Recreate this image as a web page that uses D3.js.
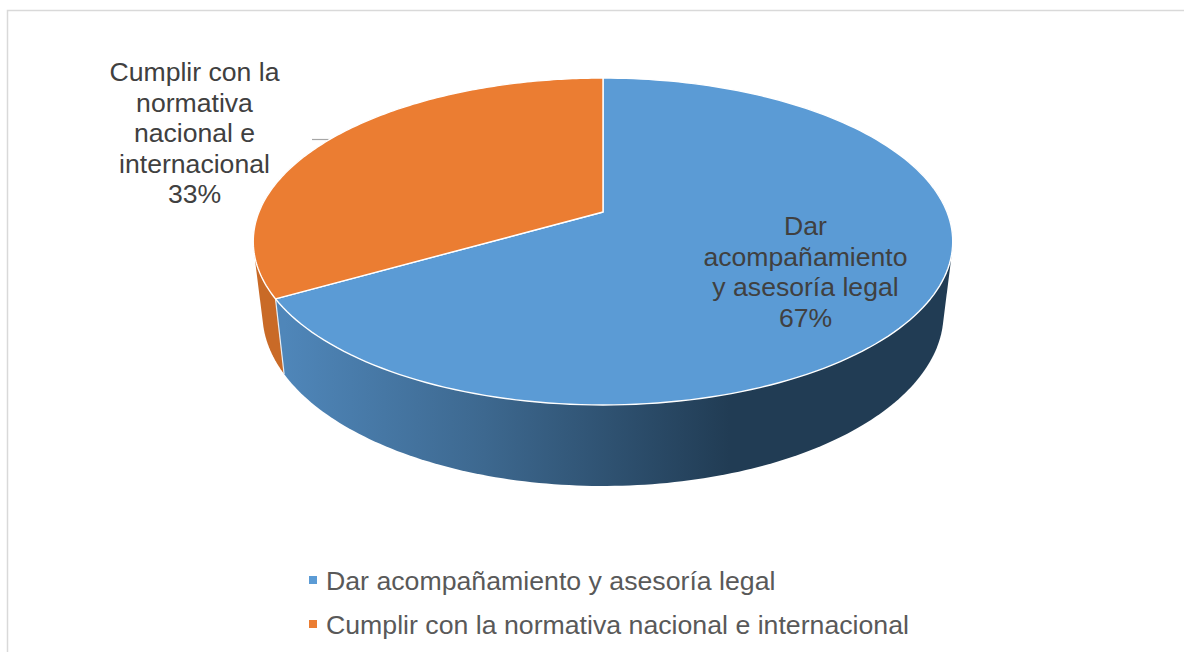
<!DOCTYPE html>
<html><head><meta charset="utf-8">
<script src="https://cdn.jsdelivr.net/npm/d3@7"></script>
<style>html,body{margin:0;background:#fff}svg{display:block}text{font-family:"Liberation Sans",Arial,sans-serif}</style>
</head><body><svg id="c" width="1184" height="652"></svg>
<script>
const categories = ["Dar acompañamiento y asesoría legal", "Cumplir con la normativa nacional e internacional"];
const values = [66.67, 33.33];
const percentLabels = ["67%", "33%"];
const labelLines = [["Dar", "acompañamiento", "y asesoría legal"], ["Cumplir con la", "normativa", "nacional e", "internacional"]];
const colors = ["#5b9bd5", "#eb7d32"];

const svg = d3.select("#c");
// chart frame
svg.append("path").attr("d", "M7.5 652V10.5H1184").attr("fill", "none").attr("stroke", "#d9d9d9").attr("stroke-width", 1.5);

// Perspective projection of a circle: angle -> screen point
const cx = 603, persp = 0.1804;
const topRim = {k: 344, A: -119.9, B: 212};
const lowRim = {k: 335, A: -116, B: 282.3};
const proj = (a, r) => {
  const u = Math.sin(a), v = Math.cos(a), w = 1 + persp * v;
  return [cx + r.k * u / w, (r.B + r.A * v) / w];
};
const pie = d3.pie().sort(null).value(d => d)(values);
const line = d3.line();
const sample = (a0, a1, n = 160) => d3.range(n + 1).map(i => a0 + (a1 - a0) * i / n);

// gradients
const defs = svg.append("defs");
const g = defs.append("linearGradient").attr("id", "side0").attr("gradientUnits", "userSpaceOnUse")
  .attr("x1", 284).attr("x2", 730).attr("y1", 0).attr("y2", 0);
g.append("stop").attr("offset", 0).attr("stop-color", "#4f86b9");
g.append("stop").attr("offset", 0.45).attr("stop-color", "#3d688f");
g.append("stop").attr("offset", 1).attr("stop-color", "#213c54");

const deg = Math.PI / 180;
const leftEdge = pie[0].endAngle;
// side walls: hull of the two rims over each wall's angular range (orange first, blue covers its overlap)
const walls = [
  {a0: leftEdge, a1: 300 * deg, fill: "#c96a27"},
  {a0: leftEdge, a1: 70 * deg, fill: "url(#side0)"}
];
svg.selectAll("path.wall").data(walls).join("path").attr("class", "wall")
  .attr("d", d => {
    const s = sample(d.a0, d.a1);
    return line(d3.polygonHull(s.map(a => proj(a, topRim)).concat(s.map(a => proj(a, lowRim))))) + "Z";
  }).attr("fill", d => d.fill);

// edge between the two wall colours
svg.append("line")
  .attr("x1", proj(leftEdge, topRim)[0]).attr("y1", proj(leftEdge, topRim)[1])
  .attr("x2", proj(leftEdge, lowRim)[0]).attr("y2", proj(leftEdge, lowRim)[1])
  .attr("stroke", "#e8eef4").attr("stroke-width", 1.2);

// leader line
svg.append("line").attr("x1", 312).attr("x2", 336).attr("y1", 139.5).attr("y2", 139.5).attr("stroke", "#a6a6a6").attr("stroke-width", 1.2);

// top slices
svg.selectAll("path.slice").data(pie).join("path").attr("class", "slice")
  .attr("d", d => {
    const pts = sample(d.startAngle, d.endAngle).map(a => proj(a, topRim));
    return line([[cx, topRim.B], ...pts]) + "Z";
  })
  .attr("fill", (d, i) => colors[i]).attr("stroke", "#fff").attr("stroke-width", 1.4).attr("stroke-linejoin", "round");

// data labels
const labelPos = [{x: 805.5, y: 235}, {x: 194.5, y: 81}];
labelLines.forEach((ls, i) => {
  const t = svg.append("text").attr("text-anchor", "middle").attr("font-size", 26.6).attr("fill", "#404040");
  ls.concat(percentLabels[i]).forEach((s, j) => {
    t.append("tspan").attr("x", labelPos[i].x).attr("y", labelPos[i].y + j * 30.6).text(s);
  });
});

// legend
const ly = d3.scalePoint().domain(categories).range([581, 625]);
const leg = svg.selectAll("g.leg").data(categories).join("g").attr("class", "leg")
  .attr("transform", d => `translate(0,${ly(d)})`);
leg.append("rect").attr("x", 309).attr("y", -5).attr("width", 8).attr("height", 8).attr("fill", (d, i) => colors[i]);
leg.append("text").attr("x", 326).attr("y", 9).attr("font-size", 26.7).attr("fill", "#595959").text(d => d);
</script></body></html>
